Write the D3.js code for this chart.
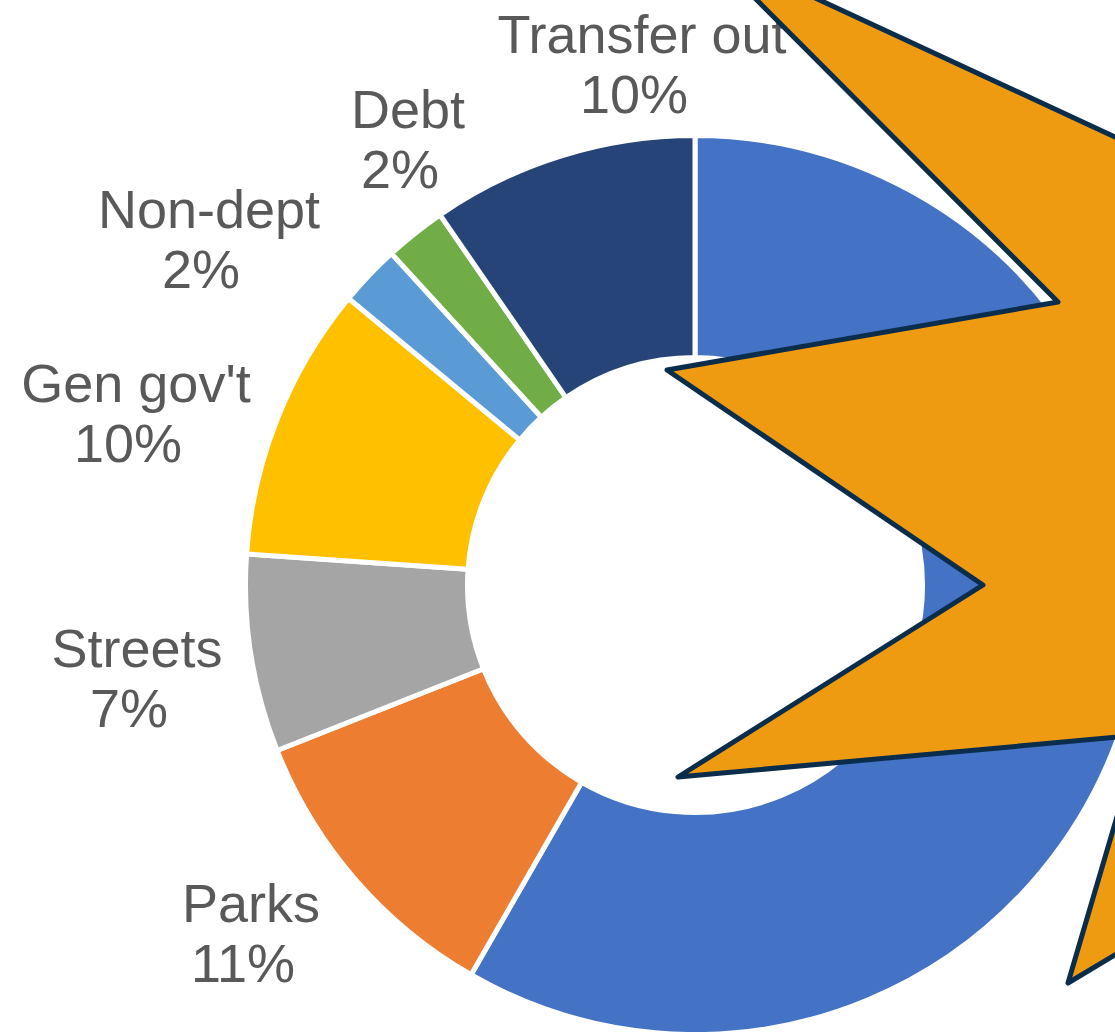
<!DOCTYPE html>
<html>
<head>
<meta charset="utf-8">
<script src="https://cdn.jsdelivr.net/npm/d3@7"></script>
<style>
  html, body { margin: 0; padding: 0; background: #ffffff; overflow: hidden; }
  svg { display: block; }
</style>
</head>
<body>
<svg id="chart" width="1115" height="1032"></svg>
<script>
// ---------- DATA ----------
const categories = ["(hidden)", "Parks", "Streets", "Gen gov't", "Non-dept", "Debt", "Transfer out"];
const values     = [58.3, 10.7, 7.1, 9.9, 2.2, 2.2, 9.6];
const showLabel  = [false, true, true, true, true, true, true];

// ---------- STYLE / LAYOUT ----------
const colors = ["#4472C4", "#ED7D31", "#A5A5A5", "#FFC000", "#5B9BD5", "#70AD47", "#264478"];
const W = 1115, H = 1032;
const cx = 695, cy = 585;
const outerR = 449.5, innerR = 227.5;
// label anchor (centre x, first-line baseline y) per slice
const labelAnchors = [null, [251, 922], [137, 667], [136, 402], [209, 228], [408, 128], [642, 53]];
// overlaid star callout polygon
const starPoints = [
  [703, -54], [1058, 302], [667, 370], [983, 585], [678, 777],
  [1141, 735], [1068, 983], [1400, 784], [1400, 269]
];

// ---------- DRAW ----------
const svg = d3.select("#chart");
svg.append("rect").attr("width", W).attr("height", H).attr("fill", "#ffffff");

const total = d3.sum(values);
const pie = d3.pie().sort(null).value(d => d).startAngle(0).endAngle(2 * Math.PI);
const arc = d3.arc().innerRadius(innerR).outerRadius(outerR);
const arcs = pie(values);

const g = svg.append("g").attr("transform", `translate(${cx},${cy})`);
g.selectAll("path.slice")
  .data(arcs)
  .join("path")
  .attr("class", "slice")
  .attr("d", arc)
  .attr("fill", (d, i) => colors[i])
  .attr("stroke", "#ffffff")
  .attr("stroke-width", 5)
  .attr("stroke-linejoin", "miter");

const pct = d3.format(".0%");
const labels = svg.append("g")
  .attr("font-family", "'Liberation Sans', Arial, sans-serif")
  .attr("font-size", 54)
  .attr("fill", "#595959")
  .attr("text-anchor", "middle");

arcs.forEach((d, i) => {
  if (!showLabel[i]) return;
  const [lx, ly] = labelAnchors[i];
  const t = labels.append("text").attr("x", lx).attr("y", ly);
  t.append("tspan").attr("x", lx).attr("y", ly).text(categories[i]);
  t.append("tspan").attr("x", lx - 8).attr("y", ly + 60).text(pct(values[i] / total));
});

// star callout overlay
svg.append("path")
  .attr("d", d3.line().curve(d3.curveLinearClosed)(starPoints))
  .attr("fill", "#EF9B11")
  .attr("stroke", "#0B2D4C")
  .attr("stroke-width", 5)
  .attr("stroke-linejoin", "round");
</script>
</body>
</html>
